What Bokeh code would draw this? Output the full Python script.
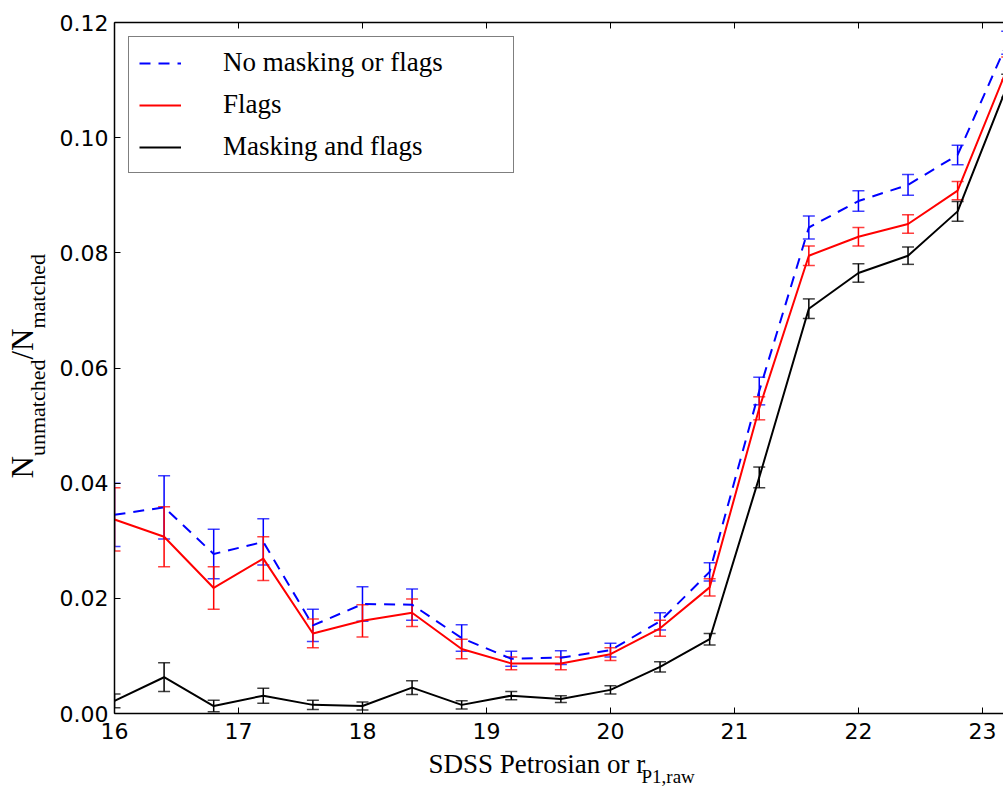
from math import pi
from bokeh.plotting import figure
from bokeh.layouts import row, column
from bokeh.models import (ColumnDataSource, Whisker, TeeHead, Legend, LegendItem,
                          LinearAxis, FixedTicker, Label, Range1d, NumeralTickFormatter)
from bokeh.embed import file_html
from bokeh.resources import INLINE

# ---------------- data ----------------
mag = [16.0, 16.4, 16.8, 17.2, 17.6, 18.0, 18.4, 18.8, 19.2, 19.6,
       20.0, 20.4, 20.8, 21.2, 21.6, 22.0, 22.4, 22.8, 23.2]

no_mask = [0.0345, 0.0358, 0.0277, 0.0298, 0.0153, 0.0190, 0.0189, 0.0131, 0.0095, 0.0097,
           0.0110, 0.0160, 0.0246, 0.0560, 0.0844, 0.0890, 0.0918, 0.0970, 0.1165]
no_mask_err = [0.0055, 0.0055, 0.0043, 0.0040, 0.0028, 0.0030, 0.0027, 0.0023, 0.0013, 0.0012,
               0.0012, 0.0015, 0.0016, 0.0024, 0.0020, 0.0018, 0.0018, 0.0017, 0.0020]

flags = [0.0337, 0.0307, 0.0218, 0.0269, 0.0139, 0.0161, 0.0175, 0.0112, 0.0087, 0.0087,
         0.0103, 0.0148, 0.0219, 0.0530, 0.0795, 0.0828, 0.0850, 0.0908, 0.1120]
flags_err = [0.0055, 0.0052, 0.0037, 0.0038, 0.0025, 0.0028, 0.0024, 0.0017, 0.0011, 0.0011,
             0.0011, 0.0014, 0.0015, 0.0020, 0.0017, 0.0016, 0.0016, 0.0016, 0.0020]

mask_flags = [0.0022, 0.0063, 0.0013, 0.0031, 0.0015, 0.0013, 0.0045, 0.0015, 0.0031, 0.0025,
              0.0041, 0.0081, 0.0129, 0.0410, 0.0703, 0.0765, 0.0795, 0.0872, 0.1090]
mask_flags_err = [0.0012, 0.0025, 0.0010, 0.0013, 0.0008, 0.0007, 0.0012, 0.0007, 0.0007, 0.0006,
                  0.0007, 0.0009, 0.0010, 0.0018, 0.0017, 0.0016, 0.0015, 0.0017, 0.0020]

series_names = ["No masking or flags", "Flags", "Masking and flags"]
x_ticks = [16, 17, 18, 19, 20, 21, 22, 23]
y_ticks = [0.0, 0.02, 0.04, 0.06, 0.08, 0.10, 0.12]

# ---------------- layout ----------------
W, H = 1003, 787
YL_W = 56            # width of the strip holding the y title
XL_H = 38            # height of the strip holding the x title
FL, FR, FT, FB = 114, 1003, 22, 713
X0, X1, Y0, Y1 = 16.0, 23.17, 0.0, 0.12

TICK_FONT = "DejaVu Sans"
SERIF = "Liberation Serif"

p = figure(width=W - YL_W, height=H - XL_H, output_backend="svg", toolbar_location=None,
           x_range=Range1d(X0, X1), y_range=Range1d(Y0, Y1),
           min_border_left=FL - YL_W, min_border_right=W - FR,
           min_border_top=FT, min_border_bottom=(H - XL_H) - FB)
p.outline_line_color = None
p.grid.visible = False
p.background_fill_color = "white"
p.border_fill_color = "white"

for ax in p.xaxis:
    ax.ticker = FixedTicker(ticks=x_ticks)
    ax.major_label_standoff = 9
for ax in p.yaxis:
    ax.ticker = FixedTicker(ticks=y_ticks)
    ax.formatter = NumeralTickFormatter(format="0.00")
    ax.major_label_standoff = 6

for ax in list(p.xaxis) + list(p.yaxis):
    ax.major_tick_in = 6
    ax.major_tick_out = 0
    ax.minor_tick_line_color = None
    ax.axis_line_width = 1.5
    ax.major_tick_line_width = 1
    ax.major_label_text_font = TICK_FONT
    ax.major_label_text_font_size = "22px"
    ax.major_label_text_color = "black"

top_axis = LinearAxis(ticker=FixedTicker(ticks=x_ticks), major_tick_in=6, major_tick_out=0,
                      minor_tick_line_color=None, axis_line_width=1.5,
                      major_label_text_color=None, major_label_text_font_size="1px",
                      major_label_standoff=0)
p.add_layout(top_axis, "above")

colors = ["#0000ff", "#ff0000", "#000000"]
dashes = ["11 8", "solid", "solid"]
values = [no_mask, flags, mask_flags]
errors = [no_mask_err, flags_err, mask_flags_err]

items = []
for name, c, dsh, vals, errs in zip(series_names, colors, dashes, values, errors):
    src = ColumnDataSource(data=dict(
        x=mag, y=vals,
        upper=[v + e for v, e in zip(vals, errs)],
        lower=[v - e for v, e in zip(vals, errs)]))
    r = p.line("x", "y", source=src, line_color=c, line_width=2, line_dash=dsh)
    w = Whisker(source=src, base="x", upper="upper", lower="lower",
                line_color=c, line_width=1.5,
                upper_head=TeeHead(size=12, line_color=c, line_width=1.5, line_alpha=0.75),
                lower_head=TeeHead(size=12, line_color=c, line_width=1.5, line_alpha=0.75))
    p.add_layout(w)
    items.append(LegendItem(label=name, renderers=[r]))

legend = Legend(items=items, location="top_left", margin=14, padding=10,
                spacing=11, glyph_width=42, glyph_height=24, label_height=24,
                label_width=280, label_standoff=42,
                label_text_font=SERIF, label_text_font_size="27px", label_text_color="black",
                border_line_color="black", border_line_width=1.5,
                background_fill_color="white", background_fill_alpha=1.0)
p.add_layout(legend)


# ---------------- axis titles (in their own strips) ----------------
def strip(width, height, xr, yr):
    f = figure(width=width, height=height, output_backend="svg", toolbar_location=None,
               x_axis_type=None, y_axis_type=None,
               x_range=Range1d(*xr), y_range=Range1d(*yr),
               min_border=0, min_border_left=0, min_border_right=0,
               min_border_top=0, min_border_bottom=0)
    f.outline_line_color = None
    f.grid.visible = False
    f.background_fill_color = "white"
    f.border_fill_color = "white"
    return f


BASE_SHIFT = 0.38   # anchor sits this many ems above the drawn baseline

# y title strip: page x 0..YL_W, page y 0..H  (data y = H - page y)
ys = strip(YL_W, H, (0, YL_W), (0, H))
# (text, font px, baseline page x, start page y)
ylab_parts = [("N", 31, 34, 478), ("unmatched", 22, 45, 455.6),
              ("/N", 31, 34, 359.1), ("matched", 22, 45, 328.1)]
for txt, fs, bx, by in ylab_parts:
    ys.add_layout(Label(x=bx - BASE_SHIFT * fs, y=H - by, text=txt, angle=pi / 2,
                        text_font=SERIF, text_font_size=f"{fs}px", text_color="black",
                        text_align="left", text_baseline="alphabetic"))

# x title strip: its frame lines up with the main frame (page x FL..FR), page y H-XL_H..H
xs = strip(W - YL_W, XL_H, (FL, FR), (0, XL_H))
# (text, font px, start page x, baseline page y)
xlab_parts = [("SDSS Petrosian or r", 27, 428, 774), ("P1,raw", 19, 641, 783)]
for txt, fs, bx, by in xlab_parts:
    xs.add_layout(Label(x=bx, y=H - by + BASE_SHIFT * fs, text=txt,
                        text_font=SERIF, text_font_size=f"{fs}px", text_color="black",
                        text_align="left", text_baseline="alphabetic"))

layout = row(ys, column(p, xs, spacing=0), spacing=0)

open("out.html", "w").write(file_html(layout, INLINE))
